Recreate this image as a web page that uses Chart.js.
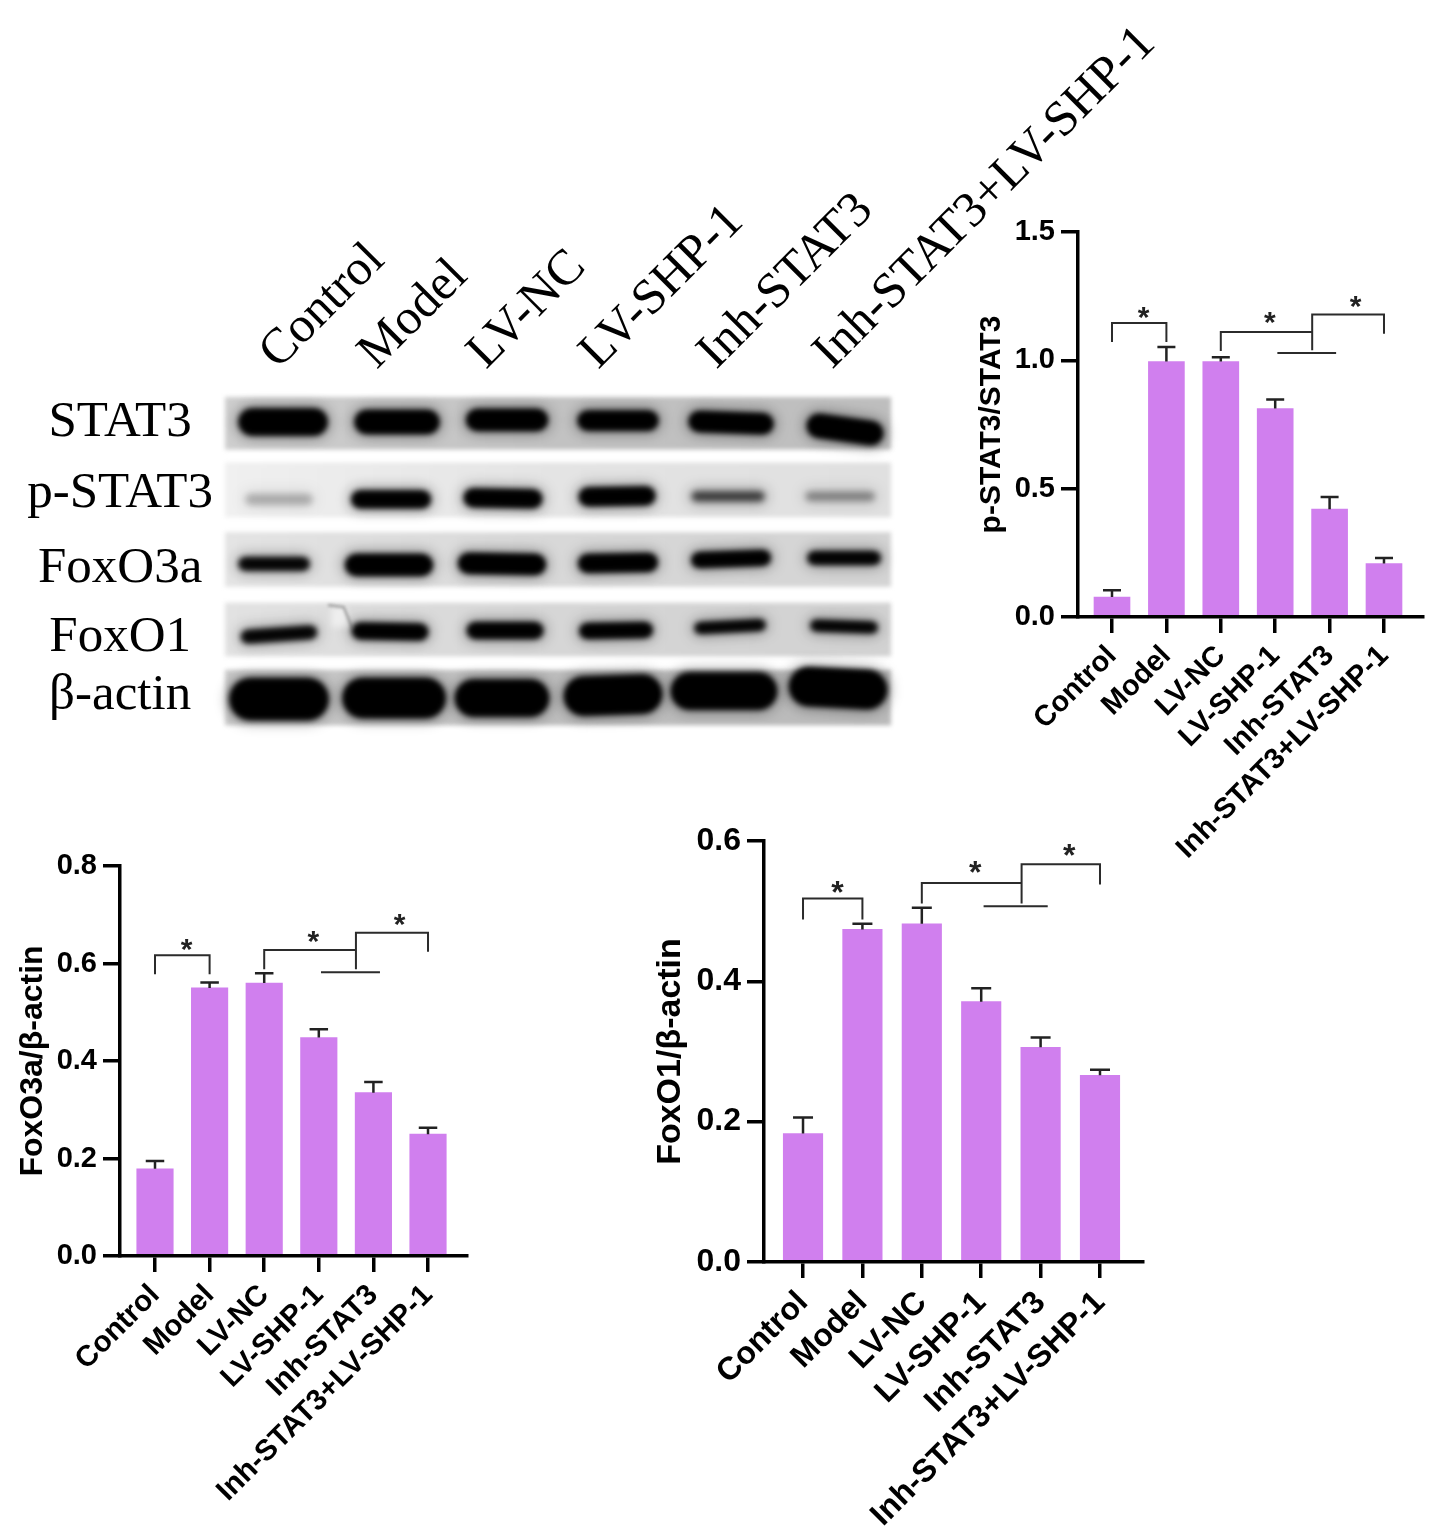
<!DOCTYPE html>
<html>
<head>
<meta charset="utf-8">
<title>p-STAT3, FoxO3a, FoxO1</title>
<script src="https://cdn.jsdelivr.net/npm/chart.js@4"></script>
<style>
    body { margin: 0; background: #fff; }
    #page { position: relative; width: 1434px; height: 1540px; overflow: hidden; }
    canvas { position: absolute; }
</style>
</head>
<body>
<div id="page">
    <canvas id="blot" width="1434" height="760" style="left:0;top:0"></canvas>
    <canvas id="chart_pstat3" width="484" height="690" style="left:950px;top:200px"></canvas>
    <canvas id="chart_foxo3a" width="490" height="700" style="left:0;top:840px"></canvas>
    <canvas id="chart_foxo1" width="520" height="725" style="left:640px;top:815px"></canvas>
</div>
<script>
// values
const categories = ['Control', 'Model', 'LV-NC', 'LV-SHP-1', 'Inh-STAT3', 'Inh-STAT3+LV-SHP-1'];

const pstat3Values = [0.078, 0.995, 0.995, 0.812, 0.42, 0.208];
const pstat3ErrorTop = [0.104, 1.052, 1.012, 0.847, 0.468, 0.23];
const pstat3Ticks = [0, 0.5, 1.0, 1.5];
// b1 top, b1 leg, b2 top, b2 leg, junction bottom, lower line, b3 top, b3 leg, star1, star2, star3
const pstat3Brackets = [1.145, 1.071, 1.11, 1.036, 1.039, 1.029, 1.179, 1.104, 1.175, 1.156, 1.221];

const foxo3aValues = [0.179, 0.55, 0.56, 0.448, 0.335, 0.25];
const foxo3aErrorTop = [0.195, 0.561, 0.58, 0.465, 0.357, 0.263];
const foxo3aTicks = [0, 0.2, 0.4, 0.6, 0.8];
const foxo3aBrackets = [0.617, 0.578, 0.6275, 0.588, 0.588, 0.582, 0.663, 0.624, 0.634, 0.651, 0.686];

const foxo1Values = [0.183, 0.474, 0.482, 0.371, 0.306, 0.266];
const foxo1ErrorTop = [0.206, 0.482, 0.505, 0.39, 0.32, 0.274];
const foxo1Ticks = [0, 0.2, 0.4, 0.6];
const foxo1Brackets = [0.518, 0.488, 0.54, 0.511, 0.511, 0.507, 0.567, 0.538, 0.53, 0.558, 0.583];

// blot: how dark each band looks (0-1), one row per protein
const blotRows = ['STAT3', 'p-STAT3', 'FoxO3a', 'FoxO1', 'β-actin'];
const stat3Density = [1, 1, 1, 1, 1, 1];
const pstat3Density = [0.22, 0.95, 0.95, 0.95, 0.65, 0.35];
const foxo3aDensity = [0.85, 1, 1, 0.95, 0.95, 0.9];
const foxo1Density = [0.85, 0.95, 0.95, 0.95, 0.9, 0.9];
const actinDensity = [1, 1, 1, 1, 1, 1];

// blot layout, lanes and rows in axis units, band size in px
const bandLane = [
    [0, 1.014, 1.993, 2.98, 3.986, 5],
    [-0.036, 0.961, 1.957, 2.972, 3.959, 4.956],
    [-0.08, 0.943, 1.948, 2.98, 3.986, 4.991],
    [-0.036, 0.952, 1.975, 2.963, 3.977, 4.991],
    [-0.036, 0.988, 1.948, 2.936, 3.923, 4.938]
];
const bandRow = [
    [-0.02, -0.02, -0.05, -0.04, -0.01, 0.09],
    [1.109, 1.109, 1.094, 1.065, 1.065, 1.065],
    [2.05, 2.065, 2.05, 2.036, 1.978, 1.964],
    [3.08, 3.036, 3.022, 3.022, 2.964, 2.964],
    [4.022, 4.007, 4.007, 3.964, 3.906, 3.862]
];
const bandW = [
    [87, 83, 80, 79, 83, 75],
    [67, 78, 77, 75, 73, 69],
    [70, 86, 86, 78, 78, 72],
    [75, 75, 75, 72, 70, 66],
    [97, 101, 92, 96, 104, 96]
];
const bandH = [
    [25, 22, 20, 18, 19, 22],
    [11, 16, 17, 17, 10, 9],
    [12, 20, 19, 17, 14, 12],
    [12, 15, 15, 14, 10, 10],
    [40, 38, 35, 37, 35, 37]
];
const bandTilt = [
    [0, 0, 0, 0, 2, 8],
    [0, 0, 1, -1, 0, 0],
    [0, 0, 1, -1, -2, 0],
    [-4, 1, 0, -1, -3, 2],
    [0, 0, 0, -2, 0, 3]
];
const panelSpan = [[-0.384, 0.384], [0.572, 1.37], [1.587, 2.384], [2.616, 3.399], [3.594, 4.406]];
const panelGrey = [194, 228, 216, 214, 190];
const rowLabelAt = [-0.01, 1.03, 2.12, 3.12, 3.97];
const laneLabelAt = [0.25, 1.13, 2.1, 3.1, 4.15, 5.18];

const barColor = '#d07fee';
const lineColor = '#2b2b2b';

function makeBarChart(id, o) {
    const ctx = document.getElementById(id).getContext('2d');
    const annotate = {
        id: 'annotate',
        afterDatasetsDraw(chart) {
            const c = chart.ctx, xs = chart.scales.x, ys = chart.scales.y, b = o.brackets;
            // error bars
            c.save();
            c.strokeStyle = '#222';
            c.lineWidth = 2.5;
            o.errorTop.forEach((top, i) => {
                const px = xs.getPixelForValue(i), py = ys.getPixelForValue(top);
                c.beginPath();
                c.moveTo(px, ys.getPixelForValue(o.values[i]));
                c.lineTo(px, py);
                c.moveTo(px - o.capWidth / 2, py);
                c.lineTo(px + o.capWidth / 2, py);
                c.stroke();
            });
            // significance brackets
            const X = v => xs.getPixelForValue(v), Y = v => ys.getPixelForValue(v);
            c.strokeStyle = lineColor;
            c.lineWidth = 2;
            c.beginPath();
            c.moveTo(X(0), Y(b[1])); c.lineTo(X(0), Y(b[0])); c.lineTo(X(1), Y(b[0])); c.lineTo(X(1), Y(b[1]));
            c.moveTo(X(2), Y(b[3])); c.lineTo(X(2), Y(b[2])); c.lineTo(X(3.68), Y(b[2]));
            c.moveTo(X(3.68), Y(b[4])); c.lineTo(X(3.68), Y(b[6])); c.lineTo(X(5), Y(b[6])); c.lineTo(X(5), Y(b[7]));
            c.moveTo(X(3.04), Y(b[5])); c.lineTo(X(4.12), Y(b[5]));
            c.stroke();
            c.fillStyle = '#222';
            c.font = 'bold ' + o.starSize + 'px "Liberation Sans"';
            c.textAlign = 'center';
            c.textBaseline = 'alphabetic';
            [[0.58, b[8]], [2.9, b[9]], [4.48, b[10]]].forEach(s => {
                c.fillText('*', X(s[0]), Y(s[1]) + o.starSize * 0.4);
            });
            c.restore();
        }
    };
    return new Chart(ctx, {
        type: 'bar',
        plugins: [annotate],
        data: {
            datasets: [{
                data: o.values.map((v, i) => ({ x: i, y: v })),
                backgroundColor: barColor,
                borderWidth: 0,
                barThickness: o.barWidth
            }]
        },
        options: {
            responsive: false,
            animation: false,
            layout: { padding: { top: o.padTop, right: o.padRight, left: 0, bottom: 0 } },
            plugins: { legend: { display: false }, tooltip: { enabled: false } },
            scales: {
                x: {
                    type: 'linear',
                    offset: false,
                    min: o.xMin,
                    max: o.xMax,
                    afterBuildTicks: s => { s.ticks = categories.map((c, i) => ({ value: i })); },
                    afterFit: s => { s.height = o.xAxisHeight; },
                    border: { color: '#000', width: o.axisWidth, z: 2 },
                    grid: { offset: false, drawOnChartArea: false, color: '#000', lineWidth: o.axisWidth, tickLength: 16, z: 2 },
                    ticks: {
                        autoSkip: false,
                        maxRotation: 45,
                        minRotation: 45,
                        padding: o.labelPad,
                        color: '#000',
                        font: { family: '"Liberation Sans"', weight: 'bold', size: o.xFont },
                        callback: (v, i) => categories[i]
                    }
                },
                y: {
                    min: 0,
                    max: o.ticks[o.ticks.length - 1],
                    afterBuildTicks: s => { s.ticks = o.ticks.map(v => ({ value: v })); },
                    afterFit: s => { s.width = o.yAxisWidth; },
                    border: { color: '#000', width: o.axisWidth, z: 2 },
                    grid: { drawOnChartArea: false, color: '#000', lineWidth: o.axisWidth, tickLength: 17, z: 2 },
                    title: {
                        display: true,
                        text: o.yTitle,
                        color: '#000',
                        padding: { top: o.titlePad, bottom: 0 },
                        font: { family: '"Liberation Sans"', weight: 'bold', size: o.titleFont }
                    },
                    ticks: {
                        padding: 6,
                        color: '#000',
                        font: { family: '"Liberation Sans"', weight: 'bold', size: o.yFont },
                        callback: v => v.toFixed(1)
                    }
                }
            }
        }
    });
}

makeBarChart('chart_pstat3', {
    values: pstat3Values, errorTop: pstat3ErrorTop, brackets: pstat3Brackets, ticks: pstat3Ticks,
    yTitle: 'p-STAT3/STAT3',
    xMin: -0.625, xMax: 5.717, barWidth: 36, capWidth: 18,
    padTop: 32, padRight: 11, yAxisWidth: 128, xAxisHeight: 273,
    axisWidth: 3.5, xFont: 29, yFont: 29, titleFont: 30, titlePad: 24, labelPad: 6, starSize: 30
});
makeBarChart('chart_foxo3a', {
    values: foxo3aValues, errorTop: foxo3aErrorTop, brackets: foxo3aBrackets, ticks: foxo3aTicks,
    yTitle: 'FoxO3a/β-actin',
    xMin: -0.641, xMax: 5.714, barWidth: 36.5, capWidth: 18.5,
    padTop: 26, padRight: 23, yAxisWidth: 120, xAxisHeight: 284,
    axisWidth: 3.5, xFont: 29.5, yFont: 29, titleFont: 32, titlePad: 14, labelPad: 6, starSize: 30
});
makeBarChart('chart_foxo1', {
    values: foxo1Values, errorTop: foxo1ErrorTop, brackets: foxo1Brackets, ticks: foxo1Ticks,
    yTitle: 'FoxO1/β-actin',
    xMin: -0.657, xMax: 5.724, barWidth: 39.5, capWidth: 20,
    padTop: 26, padRight: 17, yAxisWidth: 124, xAxisHeight: 278,
    axisWidth: 3.5, xFont: 32, yFont: 32, titleFont: 34, titlePad: 10, labelPad: 6, starSize: 32
});

// pre-rendered soft band, used as the point image of the blot chart
function bandSprite(w, h, density) {
    const pad = 30;
    const cv = document.createElement('canvas');
    cv.width = w + pad * 2;
    cv.height = h + pad * 2;
    const c = cv.getContext('2d');
    const shape = (grow) => {
        c.beginPath();
        c.roundRect(pad - grow, pad - grow, w + grow * 2, h + grow * 2, (h + grow * 2) / 2);
        c.fill();
    };
    c.fillStyle = 'rgba(0,0,0,' + (0.45 * density) + ')';
    c.filter = 'blur(7px)';
    shape(3);
    c.fillStyle = 'rgba(0,0,0,' + Math.min(1, density * 1.02) + ')';
    c.filter = 'blur(3px)';
    shape(0);
    if (density > 0.8) shape(-1);
    return cv;
}

const densityRows = [stat3Density, pstat3Density, foxo3aDensity, foxo1Density, actinDensity];
const blotPoints = [], blotSprites = [], blotTilts = [];
densityRows.forEach((densities, r) => {
    densities.forEach((d, l) => {
        blotPoints.push({ x: bandLane[r][l], y: bandRow[r][l] });
        blotSprites.push(bandSprite(bandW[r][l], bandH[r][l], d));
        blotTilts.push(bandTilt[r][l]);
    });
});

const blotPanels = {
    id: 'blotPanels',
    beforeDatasetsDraw(chart) {
        const c = chart.ctx, ys = chart.scales.y, area = chart.chartArea;
        c.save();
        c.filter = 'blur(2px)';
        panelSpan.forEach((span, r) => {
            const top = ys.getPixelForValue(span[0]), bottom = ys.getPixelForValue(span[1]);
            const g = panelGrey[r];
            const grad = c.createLinearGradient(area.left, 0, area.right, 0);
            grad.addColorStop(0, 'rgb(' + (g + 12) + ',' + (g + 12) + ',' + (g + 12) + ')');
            grad.addColorStop(0.5, 'rgb(' + g + ',' + g + ',' + g + ')');
            grad.addColorStop(1, 'rgb(' + (g - 4) + ',' + (g - 4) + ',' + (g - 4) + ')');
            c.fillStyle = grad;
            c.fillRect(area.left, top, area.right - area.left, bottom - top);
        });
        c.restore();
    },
    // the small tear in the FoxO1 membrane next to the second lane
    afterDatasetsDraw(chart) {
        const c = chart.ctx, xs = chart.scales.x, ys = chart.scales.y;
        c.save();
        c.filter = 'blur(3px)';
        c.fillStyle = 'rgba(255,255,255,0.5)';
        c.fillRect(xs.getPixelForValue(0.43), ys.getPixelForValue(2.68), 16, 20);
        c.filter = 'blur(1.5px)';
        c.strokeStyle = 'rgba(90,90,90,0.5)';
        c.lineWidth = 2.5;
        c.beginPath();
        c.moveTo(xs.getPixelForValue(0.4), ys.getPixelForValue(2.65));
        c.lineTo(xs.getPixelForValue(0.54), ys.getPixelForValue(2.68));
        c.lineTo(xs.getPixelForValue(0.62), ys.getPixelForValue(3.0));
        c.stroke();
        c.restore();
    }
};

new Chart(document.getElementById('blot').getContext('2d'), {
    type: 'scatter',
    data: {
        datasets: [{
            data: blotPoints,
            pointStyle: ctx => blotSprites[ctx.dataIndex],
            rotation: ctx => blotTilts[ctx.dataIndex],
            radius: 10,
            clip: false
        }]
    },
    plugins: [blotPanels],
    options: {
        responsive: false,
        animation: false,
        layout: { padding: { top: 0, right: 543, bottom: 33, left: 0 } },
        plugins: { legend: { display: false }, tooltip: { enabled: false } },
        scales: {
            x: {
                type: 'linear',
                position: 'top',
                min: -0.516,
                max: 5.409,
                afterBuildTicks: s => { s.ticks = laneLabelAt.map(v => ({ value: v })); },
                afterFit: s => { s.height = 397; },
                border: { display: false },
                grid: { display: false },
                ticks: {
                    autoSkip: false,
                    maxRotation: 45,
                    minRotation: 45,
                    padding: 7,
                    color: '#000',
                    font: { family: '"Liberation Serif"', size: 50 },
                    callback: (v, i) => categories[i]
                }
            },
            y: {
                type: 'linear',
                reverse: true,
                min: -0.384,
                max: 4.406,
                afterBuildTicks: s => { s.ticks = rowLabelAt.map(v => ({ value: v })); },
                afterFit: s => { s.width = 225; },
                border: { display: false },
                grid: { display: false },
                ticks: {
                    crossAlign: 'center',
                    padding: 4,
                    color: '#000',
                    font: { family: '"Liberation Serif"', size: 51 },
                    callback: (v, i) => blotRows[i]
                }
            }
        }
    }
});
</script>
</body>
</html>
